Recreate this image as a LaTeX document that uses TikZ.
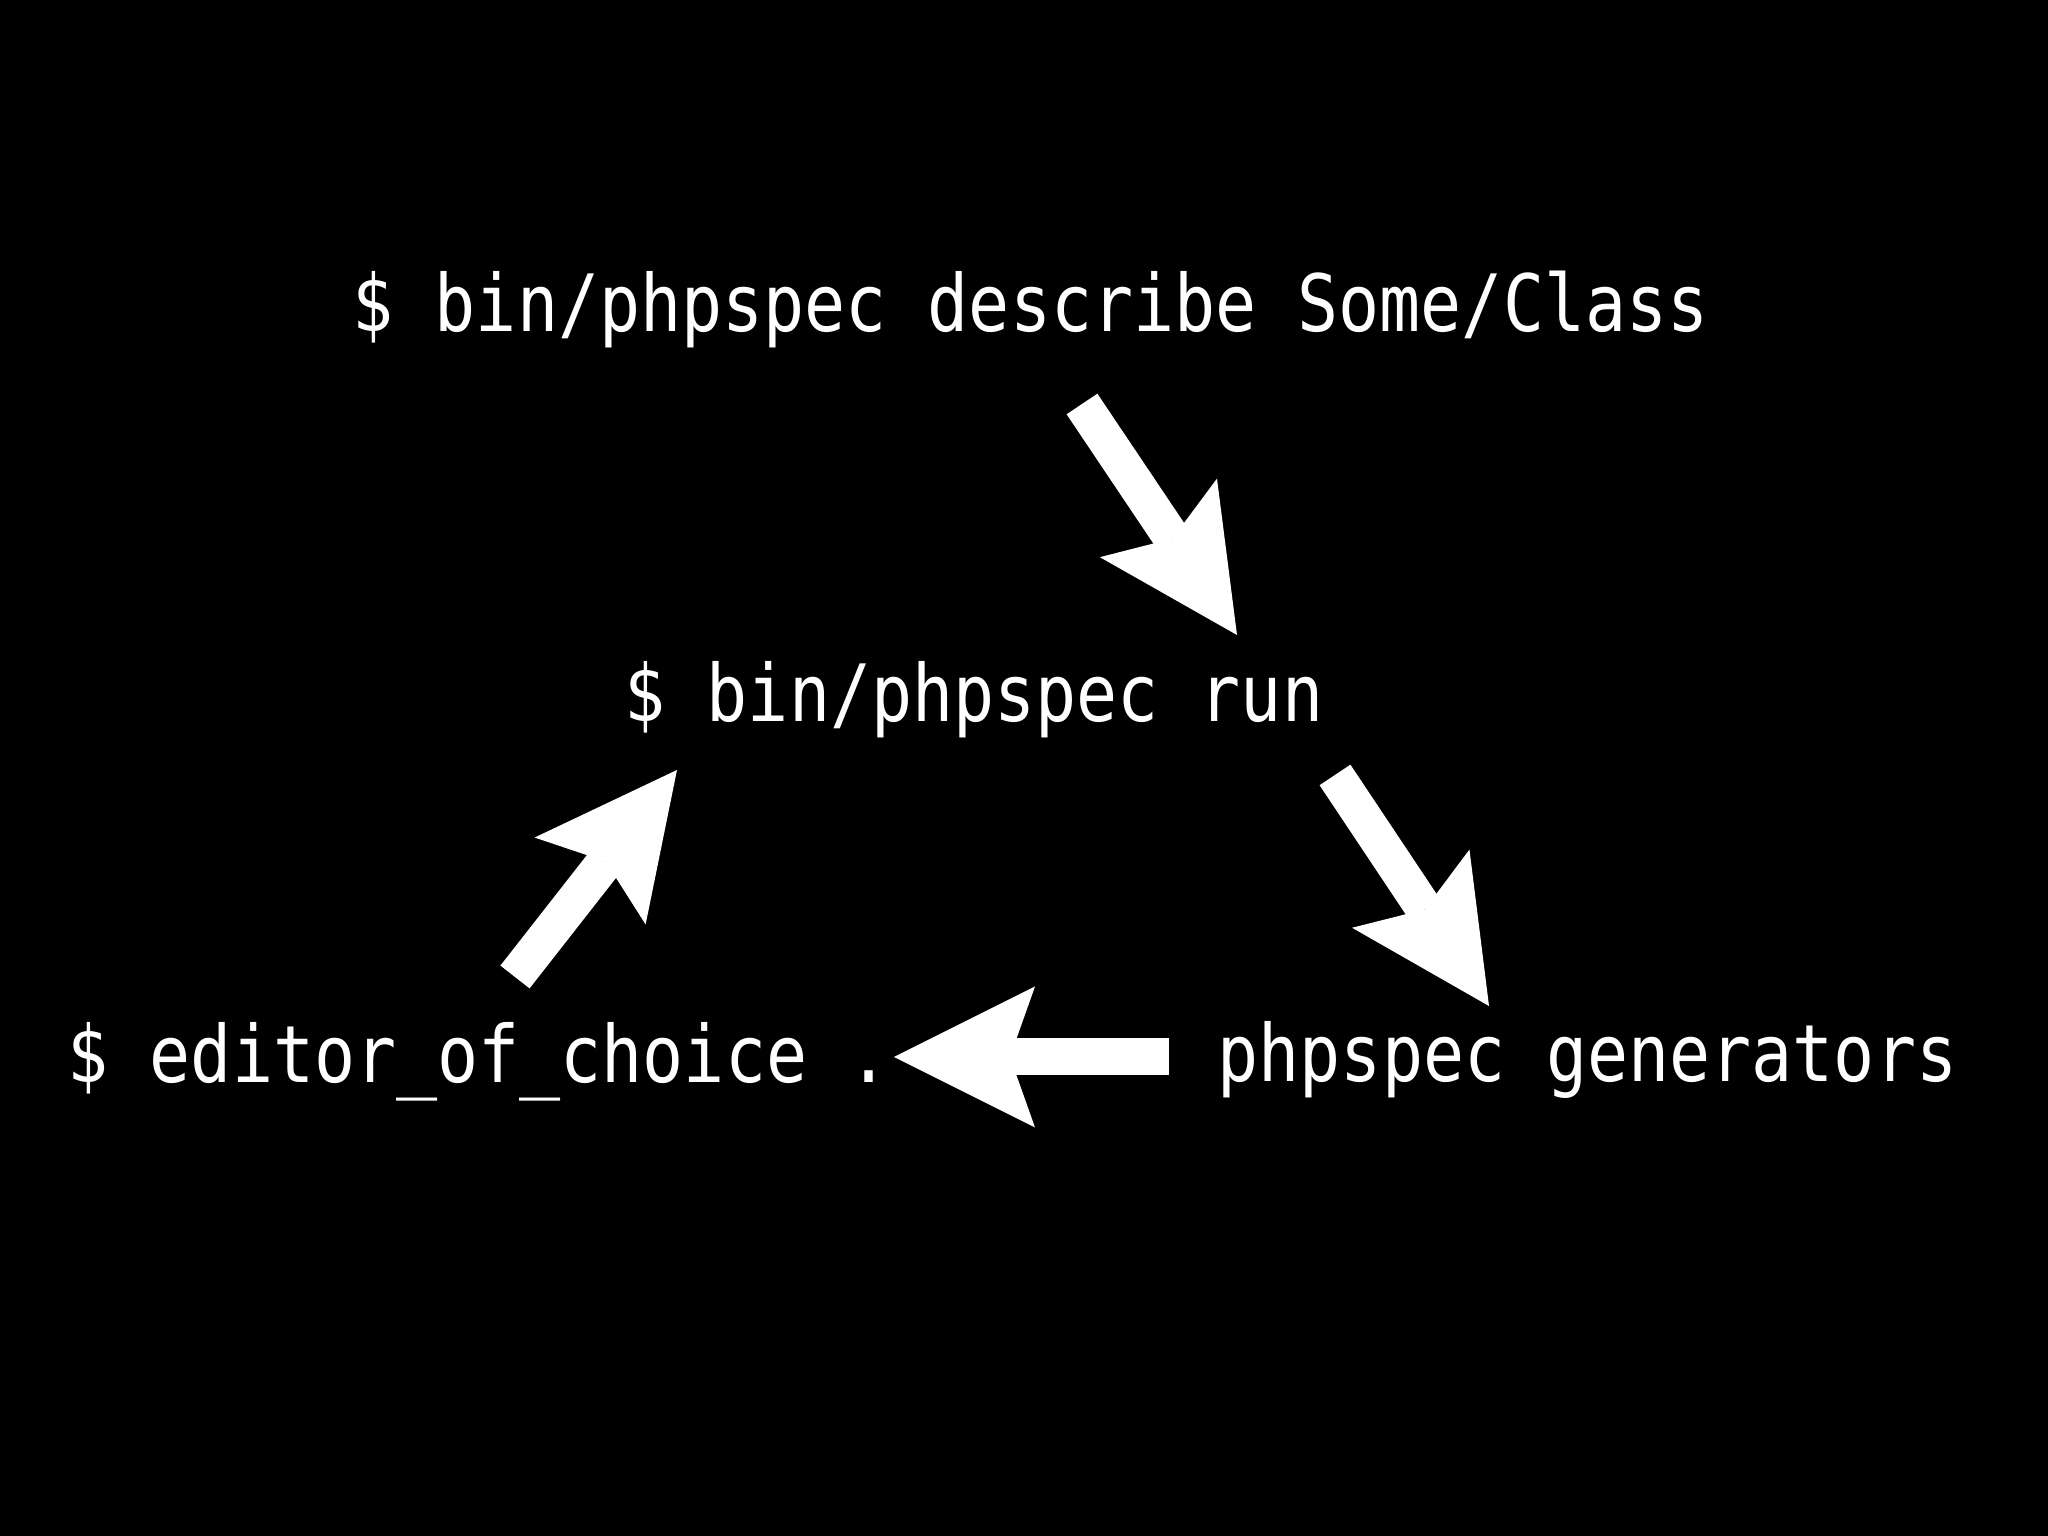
\documentclass[tikz,border=0pt]{standalone}
\usepackage{fontspec}
\newfontfamily\termfont[FakeStretch=0.863]{DejaVu Sans Mono}
\usetikzlibrary{arrows.meta}

\tikzset{
  cmd/.style={anchor=base west, inner sep=0pt, text=white,
    font=\termfont\fontsize{22.5pt}{27pt}\selectfont},
  fatarrow/.style={draw=white, line width=0.37cm,
    -{Stealth[length=1.41cm, width=1.41cm, inset=0.25cm, line width=0pt]}},
}

\begin{document}
\begin{tikzpicture}[x=1cm, y=1cm]
      \fill[black] (0,0) rectangle (20.48,15.36);   % slide
      \useasboundingbox (0,0) rectangle (20.48,15.36);
      %
      \node[cmd] (describe)   at (3.52,12.04) {\$ bin/phpspec describe Some/Class};
      \node[cmd] (run)        at (6.24,8.14)  {\$ bin/phpspec run};
      \node[cmd] (editor)     at (0.67,4.53)  {\$ editor\_of\_choice .};
      \node[cmd] (generators) at (12.17,4.54) {phpspec generators};
      %
      \coordinate (describe-out)   at (10.82,11.32);
      \coordinate (run-in)         at (12.37,9.01);
      \coordinate (run-out)        at (13.35,7.61);
      \coordinate (generators-in)  at (14.89,5.30);
      \coordinate (generators-out) at (11.69,4.79);
      \coordinate (editor-in)      at (8.94,4.79);
      \coordinate (editor-out)     at (5.15,5.59);
      \coordinate (run-back)       at (6.77,7.66);
      %
      \draw[fatarrow] (describe-out) -- (run-in);
      \draw[fatarrow] (run-out) -- (generators-in);
      \draw[fatarrow] (generators-out) -- (editor-in);
      \draw[fatarrow] (editor-out) -- (run-back);
      %
\end{tikzpicture}
\end{document}
